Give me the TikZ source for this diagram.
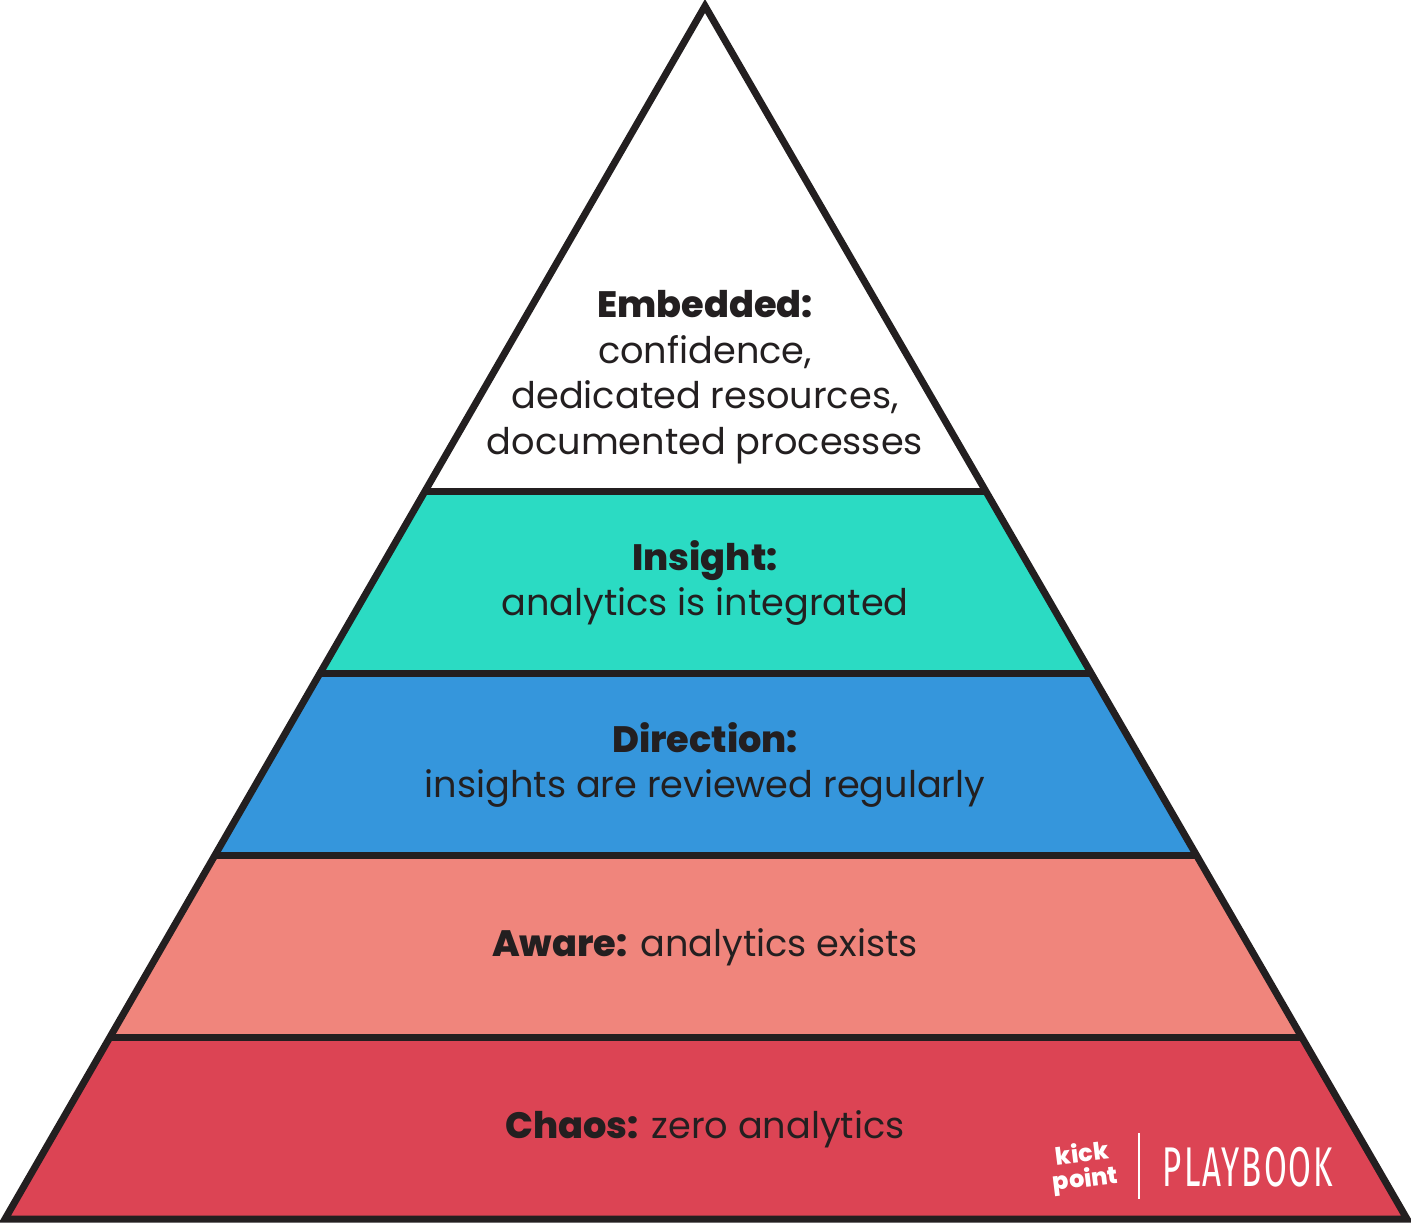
\documentclass[tikz,border=0pt]{standalone}
\usepackage{fontspec}
\setmainfont[BoldFont={Poppins ExtraBold}]{Poppins}
\newfontfamily\playfont[LetterSpace=6]{Fira Sans}
\definecolor{inkdark}{HTML}{231F20}
\definecolor{chaosred}{HTML}{DC4454}
\definecolor{awarepink}{HTML}{F0857C}
\definecolor{directionblue}{HTML}{3596DC}
\definecolor{insightteal}{HTML}{2BDBC3}
\tikzset{
  BandStyle/.style = {draw=inkdark,line width=7pt,miter limit=10},
  LevelStyle/.style = {text=inkdark,align=center,font=\fontsize{36.7}{45.5}\selectfont,inner sep=0pt}
}
\begin{document}
\begin{tikzpicture}[x=1pt,y=-1pt]
\useasboundingbox (0,0) rectangle (1411,1223);
\coordinate (top) at (705,6); \coordinate (l1) at (425,491); \coordinate (r1) at (985.7,491);
\coordinate (l2) at (320,673); \coordinate (r2) at (1091,673);
\coordinate (l3) at (215,855); \coordinate (r3) at (1196.4,855);
\coordinate (l4) at (110,1037); \coordinate (r4) at (1301.7,1037);
\coordinate (l5) at (5,1219); \coordinate (r5) at (1407,1219);
\fill[insightteal] (l1) -- (r1) -- (r2) -- (l2) -- cycle;
\fill[directionblue] (l2) -- (r2) -- (r3) -- (l3) -- cycle;
\fill[awarepink] (l3) -- (r3) -- (r4) -- (l4) -- cycle;
\fill[chaosred] (l4) -- (r4) -- (r5) -- (l5) -- cycle;
\draw[BandStyle] (top) -- (l5) -- (r5) -- cycle;
\draw[BandStyle] (l1) -- (r1); \draw[BandStyle] (l2) -- (r2);
\draw[BandStyle] (l3) -- (r3); \draw[BandStyle] (l4) -- (r4);
\node[LevelStyle] (embedded) at (705,377) {\textbf{Embedded:}\\confidence,\\dedicated resources,\\documented processes};
\node[LevelStyle] (insight) at (705,583) {\textbf{Insight:}\\analytics is integrated};
\node[LevelStyle] (direction) at (705,765) {\textbf{Direction:}\\insights are reviewed regularly};
\node[LevelStyle] (aware) at (705,947) {\textbf{Aware:} analytics exists};
\node[LevelStyle] (chaos) at (705,1129) {\textbf{Chaos:} zero analytics};
\node[text=white,font=\fontsize{24}{25}\bfseries\selectfont,align=center,inner sep=0pt,rotate=7] (kickpoint) at (1084,1168) {kick\\point};
\coordinate (divtop) at (1139,1133); \coordinate (divbot) at (1139,1199);
\draw[white,line width=1.5pt] (divtop) -- (divbot);
\node[text=white,font=\fontsize{56}{56}\playfont\selectfont,inner sep=0pt,xscale=0.59,transform shape] (playbook) at (1248,1167) {PLAYBOOK};
\end{tikzpicture}
\end{document}
